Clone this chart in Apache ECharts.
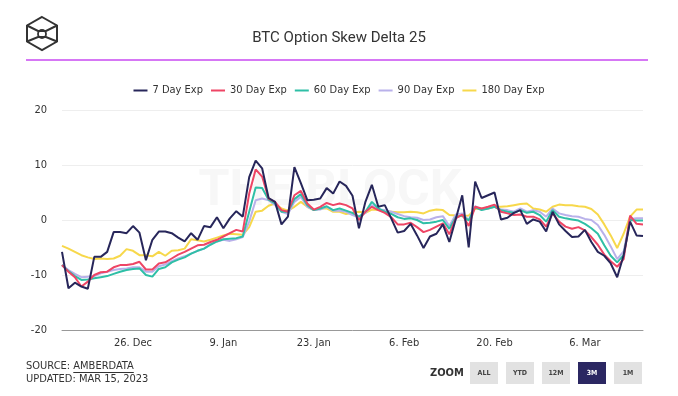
<!DOCTYPE html>
<html>
<head>
<meta charset="utf-8" />
<title>BTC Option Skew Delta 25</title>
<script src="https://cdn.jsdelivr.net/npm/echarts@6/dist/echarts.min.js"></script>
<style>
  html, body { margin: 0; padding: 0; background: #fff; }
  #chart { width: 678px; height: 396px; }
</style>
</head>
<body>
<div id="chart"></div>
<script type="text/javascript">
// daily points, 15 Dec 2022 .. 15 Mar 2023
const startDate = new Date(2022, 11, 15);
const dayCount = 91;
const monthNames = ['Jan', 'Feb', 'Mar', 'Apr', 'May', 'Jun', 'Jul', 'Aug', 'Sep', 'Oct', 'Nov', 'Dec'];
const tickLabels = ['26. Dec', '9. Jan', '23. Jan', '6. Feb', '20. Feb', '6. Mar'];

const exp7 = [-5.8, -12.4, -11.4, -12.1, -12.5, -6.7, -6.7, -5.8, -2.2, -2.2,
    -2.4, -1.1, -2.3, -7.3, -3.6, -2.1, -2.1, -2.4, -3.2, -3.9,
    -2.4, -3.6, -1.1, -1.3, 0.5, -1.5, 0.3, 1.6, 0.6, 7.8,
    10.8, 9.4, 4.0, 3.3, -0.8, 0.6, 9.6, 6.7, 3.6, 3.7,
    3.9, 5.8, 4.8, 7.0, 6.2, 4.4, -1.5, 3.3, 6.4, 2.4,
    2.7, 0.3, -2.3, -2.0, -0.7, -2.8, -5.1, -3.0, -2.5, -0.8,
    -4.0, 0.2, 4.5, -5.0, 7.0, 4.0, 4.5, 5.0, 0.1, 0.4,
    1.3, 1.8, -0.7, 0.1, -0.3, -2.1, 1.5, -0.8, -2.0, -3.1,
    -3.0, -1.8, -4.0, -5.8, -6.5, -7.9, -10.4, -6.4, -0.3, -2.8,
    -2.9];
const exp30 = [-8.2, -9.4, -10.4, -12.1, -11.2, -10.0, -9.5, -9.4, -8.6, -8.2,
    -8.2, -8.0, -7.6, -9.0, -9.0, -7.9, -7.7, -7.0, -6.3, -5.8,
    -5.2, -4.6, -4.5, -4.0, -3.6, -3.0, -2.4, -1.8, -2.1, 4.8,
    9.2, 7.9, 3.9, 3.3, 1.8, 1.5, 4.5, 5.3, 3.0, 1.9,
    2.4, 3.1, 2.7, 3.0, 2.7, 2.1, 0.0, 1.5, 2.4, 1.8,
    1.3, 0.5, -0.8, -0.8, -0.5, -1.3, -2.2, -1.8, -1.2, -0.6,
    -2.6, 0.3, 1.0, -1.1, 2.4, 2.1, 2.4, 2.8, 1.5, 1.2,
    0.9, 1.0, 0.6, 0.6, 0.1, -1.2, 1.2, -0.3, -1.2, -1.6,
    -1.3, -1.9, -3.1, -4.5, -6.3, -7.5, -8.5, -7.1, 0.8, -0.7,
    -0.8];
const exp60 = [-8.2, -9.3, -10.2, -10.9, -10.8, -10.6, -10.4, -10.2, -9.8, -9.4,
    -9.1, -8.9, -8.8, -10.0, -10.3, -8.9, -8.6, -7.7, -7.2, -6.8,
    -6.1, -5.6, -5.2, -4.5, -3.9, -3.5, -3.4, -3.3, -3.0, 1.5,
    5.9, 5.8, 3.7, 3.0, 1.5, 1.5, 3.8, 4.7, 2.7, 1.8,
    2.1, 2.5, 1.8, 2.1, 1.7, 1.3, 0.6, 1.5, 3.3, 2.1,
    1.5, 1.1, 0.5, 0.2, 0.3, 0.0, -0.6, -0.5, -0.3, 0.0,
    -1.6, 0.5, 0.8, -0.1, 2.3, 1.8, 2.1, 2.4, 1.8, 1.5,
    1.3, 1.8, 1.3, 1.5, 0.9, -0.3, 1.8, 0.6, 0.3, 0.1,
    -0.1, -0.7, -1.5, -2.5, -4.6, -6.5, -7.7, -6.4, 0.0, -0.1,
    -0.1];
const exp90 = [-8.2, -9.1, -9.8, -10.4, -10.3, -10.2, -9.7, -9.4, -9.1, -8.9,
    -8.8, -8.6, -8.6, -9.4, -9.4, -8.4, -8.1, -7.5, -7.0, -6.6,
    -6.1, -5.6, -5.2, -4.4, -3.9, -3.6, -3.8, -3.5, -3.1, -0.3,
    3.6, 3.9, 3.6, 2.7, 1.5, 1.1, 3.3, 4.2, 2.4, 1.8,
    1.9, 2.4, 1.7, 1.7, 1.5, 0.9, 0.5, 1.3, 2.7, 1.9,
    1.8, 1.5, 1.1, 0.7, 0.5, 0.4, 0.0, 0.1, 0.5, 0.7,
    -1.1, 1.0, 1.2, 0.0, 2.5, 1.9, 2.1, 2.4, 1.9, 1.8,
    1.5, 2.1, 1.5, 1.8, 1.5, 0.6, 2.1, 1.2, 0.9, 0.7,
    0.6, 0.2, 0.0, -0.9, -2.7, -4.8, -7.1, -5.7, 0.2, 0.3,
    0.3];
const exp180 = [-4.7, -5.2, -5.8, -6.4, -6.8, -7.1, -7.0, -7.1, -7.0, -6.5,
    -5.3, -5.6, -6.4, -6.4, -6.6, -5.8, -6.5, -5.6, -5.5, -5.2,
    -3.5, -3.7, -3.9, -3.6, -3.2, -2.8, -2.5, -2.6, -2.7, -1.3,
    1.5, 1.7, 2.6, 3.0, 2.1, 1.7, 2.4, 3.3, 2.4, 1.8,
    2.1, 2.1, 1.5, 1.5, 1.1, 1.3, 1.5, 1.3, 1.9, 1.8,
    1.6, 1.5, 1.4, 1.4, 1.5, 1.4, 1.2, 1.7, 1.9, 1.8,
    0.9, 0.8, 0.7, 0.8, 2.0, 2.1, 2.1, 2.4, 2.4, 2.5,
    2.7, 2.9, 3.0, 2.1, 1.9, 1.5, 2.4, 2.8, 2.7, 2.7,
    2.5, 2.4, 2.0, 1.0, -0.8, -2.8, -5.1, -2.5, 0.6, 1.9,
    1.9];

const seriesNames = ['7 Day Exp', '30 Day Exp', '60 Day Exp', '90 Day Exp', '180 Day Exp'];
const seriesColors = ['#27265a', '#ee4565', '#2ebfa6', '#b9b1ea', '#f7d84b'];
const seriesData = [exp7, exp30, exp60, exp90, exp180];
const seriesZ = [6, 5, 4, 3, 2];

// category labels like "26. Dec"
const dates = [];
for (let i = 0; i < dayCount; i++) {
    const d = new Date(startDate.getTime());
    d.setDate(d.getDate() + i);
    dates.push(d.getDate() + '. ' + monthNames[d.getMonth()]);
}

const series = [];
for (let i = 0; i < seriesNames.length; i++) {
    series.push({
        type: 'line',
        name: seriesNames[i],
        data: seriesData[i],
        showSymbol: false,
        z: seriesZ[i],
        lineStyle: {width: 2, color: seriesColors[i]},
        itemStyle: {color: seriesColors[i]}
    });
}

const narrow = "'DejaVu Sans Condensed', 'Liberation Sans Narrow', sans-serif";

// measure text for the underline under AMBERDATA
const ctx = document.createElement('canvas').getContext('2d');
ctx.font = '11px ' + narrow;
const srcW = ctx.measureText('SOURCE: ').width;
const ambW = ctx.measureText('AMBERDATA').width;

const graphics = [];

// zoom buttons
const buttons = [['ALL', 470], ['YTD', 506], ['12M', 542], ['3M', 578], ['1M', 614]];
buttons.forEach(function (b) {
    const active = b[0] === '3M';
    graphics.push({
        type: 'rect', z: 10,
        shape: {x: b[1], y: 362, width: 28, height: 22},
        style: {fill: active ? '#2b2762' : '#e2e2e2'}
    });
    graphics.push({
        type: 'text', x: b[1] + 14, y: 373.5, z: 11,
        style: {
            text: b[0], fill: active ? '#ffffff' : '#444',
            font: 'bold 7px ' + narrow, textAlign: 'center', textVerticalAlign: 'middle'
        }
    });
});

// logo
const logoStyle = {fill: 'none', stroke: '#333', lineWidth: 2};
graphics.push({
    type: 'polygon', z: 10,
    shape: {points: [[42, 17], [57, 25.5], [57, 41.5], [42, 50], [27, 41.5], [27, 25.5]]},
    style: logoStyle
});
graphics.push({
    type: 'polyline', z: 10,
    shape: {points: [[27, 25.5], [38, 31], [46, 31], [57, 25.5]]},
    style: logoStyle
});
graphics.push({
    type: 'polyline', z: 10,
    shape: {points: [[27, 41.5], [38, 37], [46, 37], [57, 41.5]]},
    style: logoStyle
});
graphics.push({
    type: 'circle', z: 10,
    shape: {cx: 42, cy: 34, r: 4},
    style: {fill: 'none', stroke: '#333', lineWidth: 1.8}
});

// header rule
graphics.push({
    type: 'line', z: 10,
    shape: {x1: 26, y1: 60, x2: 648, y2: 60},
    style: {stroke: '#d677f5', lineWidth: 2}
});

// watermark
graphics.push({
    type: 'text', x: 330, y: 192, z: 0, silent: true,
    style: {
        text: 'THE BLOCK', fill: '#f7f7f7',
        font: 'bold 50px Roboto, sans-serif', textAlign: 'center', textVerticalAlign: 'middle'
    }
});

// footer
graphics.push({
    type: 'text', x: 26, y: 366, z: 10,
    style: {text: 'SOURCE: AMBERDATA', fill: '#333', font: '11px ' + narrow, textVerticalAlign: 'middle'}
});
graphics.push({
    type: 'line', z: 10,
    shape: {x1: 26 + srcW, y1: 372.5, x2: 26 + srcW + ambW, y2: 372.5},
    style: {stroke: '#333', lineWidth: 1}
});
graphics.push({
    type: 'text', x: 26, y: 379, z: 10,
    style: {text: 'UPDATED: MAR 15, 2023', fill: '#333', font: '11px ' + narrow, textVerticalAlign: 'middle'}
});
graphics.push({
    type: 'text', x: 430, y: 373, z: 10,
    style: {text: 'ZOOM', fill: '#333', font: 'bold 11px ' + narrow, textVerticalAlign: 'middle'}
});

const myChart = echarts.init(document.getElementById('chart'), null, {renderer: 'canvas'});
const option = {
    animation: false,
    backgroundColor: '#ffffff',
    title: {
        text: 'BTC Option Skew Delta 25',
        left: 'center',
        top: 26,
        textStyle: {fontFamily: 'Roboto, sans-serif', fontSize: 15, fontWeight: 'normal', color: '#333'}
    },
    legend: {
        top: 80,
        left: 'center',
        icon: 'rect',
        itemWidth: 14,
        itemHeight: 2,
        itemGap: 8,
        data: seriesNames,
        textStyle: {fontFamily: narrow, fontSize: 11, color: '#333'}
    },
    grid: {
        left: 62,
        right: 35,
        top: 110,
        bottom: 66,
        containLabel: false
    },
    xAxis: {
        type: 'category',
        data: dates,
        boundaryGap: false,
        axisLine: {show: true, onZero: false, lineStyle: {color: '#999', width: 1}},
        axisTick: {show: false},
        splitLine: {show: false},
        axisLabel: {
            margin: 8,
            color: '#333',
            fontFamily: narrow,
            fontSize: 11,
            interval: function (idx, value) {
                return tickLabels.indexOf(value) >= 0;
            }
        }
    },
    yAxis: {
        type: 'value',
        min: -20,
        max: 20,
        interval: 10,
        axisLine: {show: false},
        axisTick: {show: false},
        splitLine: {lineStyle: {color: '#eeeeee', width: 1}},
        axisLabel: {margin: 15, color: '#333', fontFamily: narrow, fontSize: 11}
    },
    graphic: graphics,
    series: series
};
myChart.setOption(option);
</script>
</body>
</html>
